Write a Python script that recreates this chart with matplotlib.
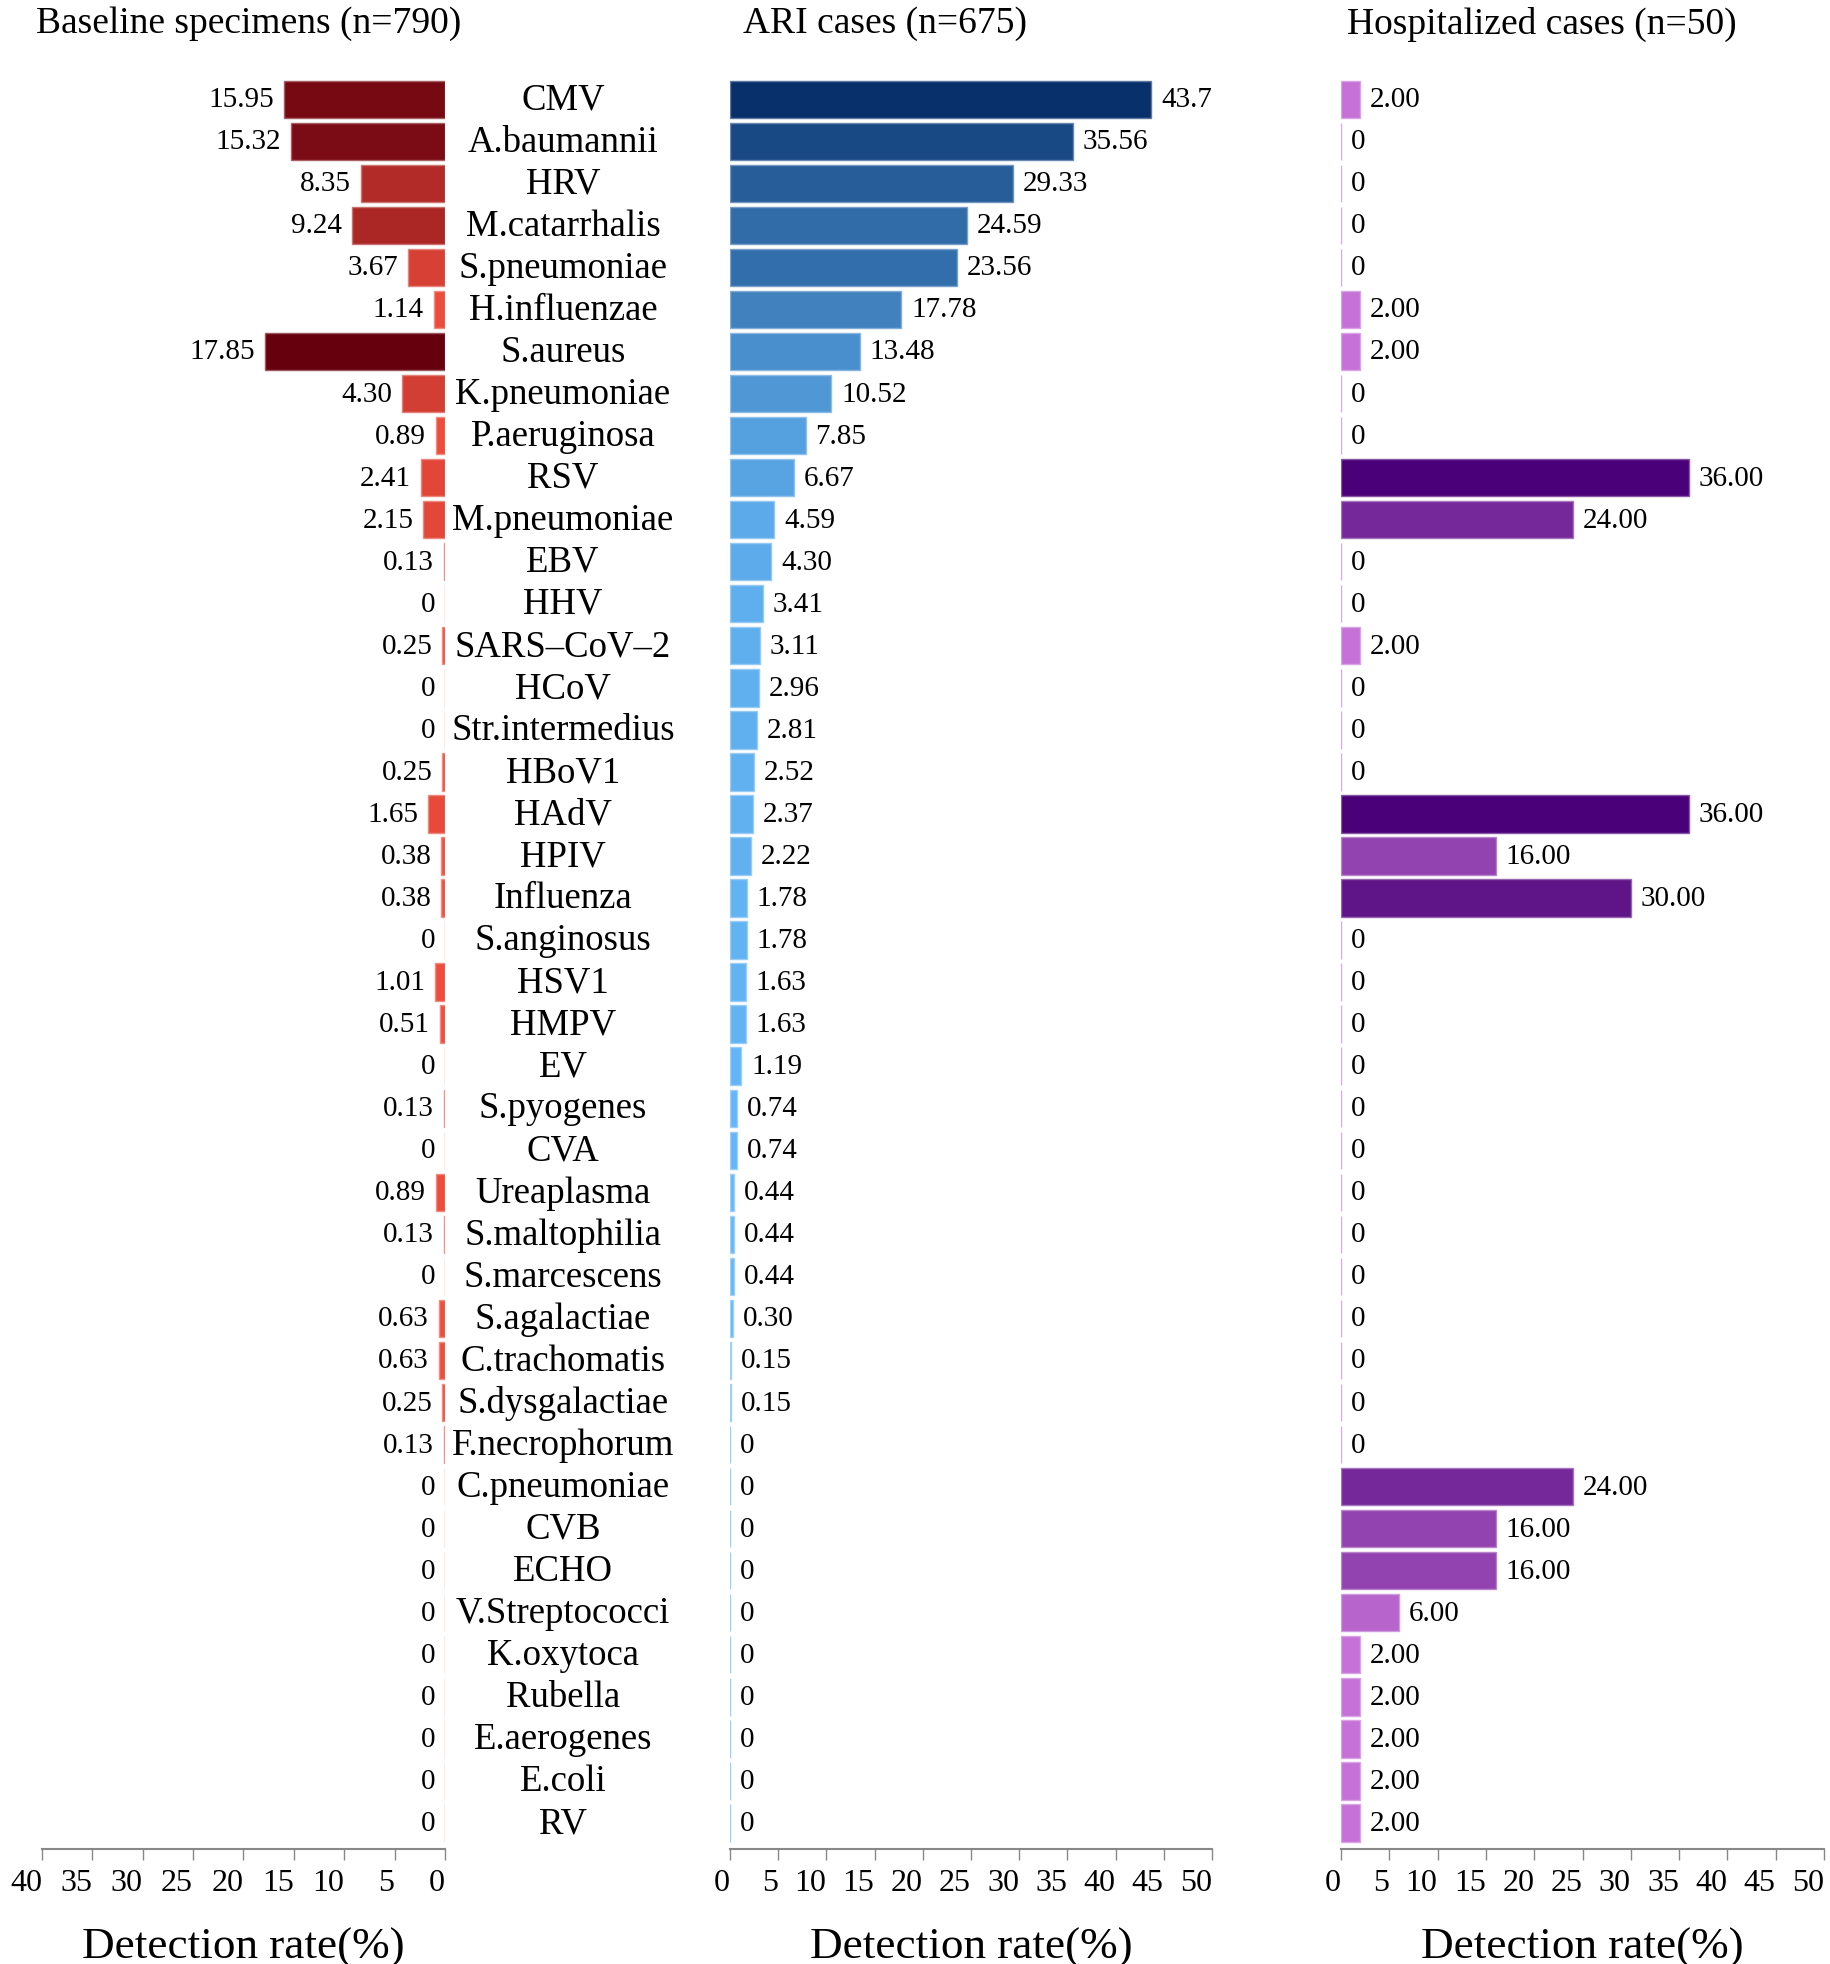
import matplotlib
matplotlib.use("Agg")
import matplotlib.pyplot as plt
import matplotlib.transforms as mtransforms
import numpy as np
from matplotlib.colors import LinearSegmentedColormap, Normalize, to_rgb

plt.rcParams['font.family'] = ['Liberation Serif', 'DejaVu Serif']

categories = ["CMV", "A.baumannii", "HRV", "M.catarrhalis", "S.pneumoniae", "H.influenzae",
              "S.aureus", "K.pneumoniae", "P.aeruginosa", "RSV", "M.pneumoniae", "EBV", "HHV",
              "SARS–CoV–2", "HCoV", "Str.intermedius", "HBoV1", "HAdV", "HPIV", "Influenza",
              "S.anginosus", "HSV1", "HMPV", "EV", "S.pyogenes", "CVA", "Ureaplasma",
              "S.maltophilia", "S.marcescens", "S.agalactiae", "C.trachomatis", "S.dysgalactiae",
              "F.necrophorum", "C.pneumoniae", "CVB", "ECHO", "V.Streptococci", "K.oxytoca",
              "Rubella", "E.aerogenes", "E.coli", "RV"]

baseline = [15.95, 15.32, 8.35, 9.24, 3.67, 1.14, 17.85, 4.30, 0.89, 2.41, 2.15, 0.13, 0,
            0.25, 0, 0, 0.25, 1.65, 0.38, 0.38, 0, 1.01, 0.51, 0, 0.13, 0, 0.89, 0.13, 0,
            0.63, 0.63, 0.25, 0.13, 0, 0, 0, 0, 0, 0, 0, 0, 0]

ari = [43.7, 35.56, 29.33, 24.59, 23.56, 17.78, 13.48, 10.52, 7.85, 6.67, 4.59, 4.30, 3.41,
       3.11, 2.96, 2.81, 2.52, 2.37, 2.22, 1.78, 1.78, 1.63, 1.63, 1.19, 0.74, 0.74, 0.44,
       0.44, 0.44, 0.30, 0.15, 0.15, 0, 0, 0, 0, 0, 0, 0, 0, 0, 0]

hosp = [2.00, 0, 0, 0, 0, 2.00, 2.00, 0, 0, 36.00, 24.00, 0, 0, 2.00, 0, 0, 0, 36.00, 16.00,
        30.00, 0, 0, 0, 0, 0, 0, 0, 0, 0, 0, 0, 0, 0, 24.00, 16.00, 16.00, 6.00, 2.00, 2.00,
        2.00, 2.00, 2.00]

titles = ["Baseline specimens (n=790)", "ARI cases (n=675)", "Hospitalized cases (n=50)"]
xlabel = "Detection rate(%)"


def fmt(v):
    return "0" if v == 0 else f"{v:.2f}"


base_labels = [fmt(v) for v in baseline]
ari_labels = [fmt(v) for v in ari]
ari_labels[0] = "43.7"
hosp_labels = [fmt(v) for v in hosp]

W, H = 1831, 1965
fig = plt.figure(figsize=(W / 100, H / 100), dpi=100)

bottom = 1 - 1850 / H
top = 1 - 75 / H
ax_l = fig.add_axes([42 / W, bottom, (445 - 42) / W, top - bottom])
ax_m = fig.add_axes([730 / W, bottom, (1212 - 730) / W, top - bottom])
ax_r = fig.add_axes([1341 / W, bottom, (1824 - 1341) / W, top - bottom])

cm_red = LinearSegmentedColormap.from_list("r", ["#f4513f", "#67000d"])
cm_blue = LinearSegmentedColormap.from_list("b", ["#66b8f8", "#08306b"])
cm_purp = LinearSegmentedColormap.from_list("p", ["#cc78dc", "#4a0078"])

y = np.arange(len(categories))


def lighten(c, f=0.35):
    r, g, b = to_rgb(c)
    return (r + (1 - r) * f, g + (1 - g) * f, b + (1 - b) * f)


def draw(ax, vals, labels, cmap, side):
    norm = Normalize(0, max(vals))
    cols = [cmap(norm(v)) for v in vals]
    ax.barh(y, vals, height=0.89, color=cols, edgecolor=[lighten(c) for c in cols], linewidth=1)
    for yi, v, lab in zip(y, vals, labels):
        if side == "left":
            ax.annotate(lab, (v, yi), xytext=(-7, 0), textcoords="offset points",
                        ha="right", va="center", fontsize=21)
        else:
            ax.annotate(lab, (v, yi), xytext=(7, 0), textcoords="offset points",
                        ha="left", va="center", fontsize=21)
    ax.set_ylim(len(categories) - 1 + 0.62, -0.6)
    ax.set_yticks([])
    for s in ["top", "right", "left"]:
        ax.spines[s].set_visible(False)
    ax.spines["bottom"].set_color("#888888")
    ax.spines["bottom"].set_linewidth(1.5)
    ax.tick_params(axis="x", colors="#888888", length=8, width=1, labelsize=23,
                   labelcolor="black", pad=6)
    ax.set_xlabel(xlabel, fontsize=32.5, labelpad=21)


draw(ax_l, baseline, base_labels, cm_red, "left")
ax_l.set_xlim(40, 0)
ax_l.set_xticks(np.arange(0, 41, 5))

draw(ax_m, ari, ari_labels, cm_blue, "right")
ax_m.set_xlim(0, 50)
ax_m.set_xticks(np.arange(0, 51, 5))

draw(ax_r, hosp, hosp_labels, cm_purp, "right")
ax_r.set_xlim(0, 50)
ax_r.set_xticks(np.arange(0, 51, 5))

for ax in (ax_l, ax_m, ax_r):
    for lab in ax.get_xticklabels():
        lab.set_horizontalalignment("right")

trans = mtransforms.blended_transform_factory(fig.transFigure, ax_l.transData)
for yi, c in zip(y, categories):
    ax_l.text(563 / W, yi, c, transform=trans, ha="center", va="center", fontsize=26.5,
              clip_on=False)

for tx, t in zip([249, 885, 1542], titles):
    fig.text(tx / W, 1 - 24 / H, t, ha="center", va="center", fontsize=27)

fig.savefig("out.png", dpi=100)
